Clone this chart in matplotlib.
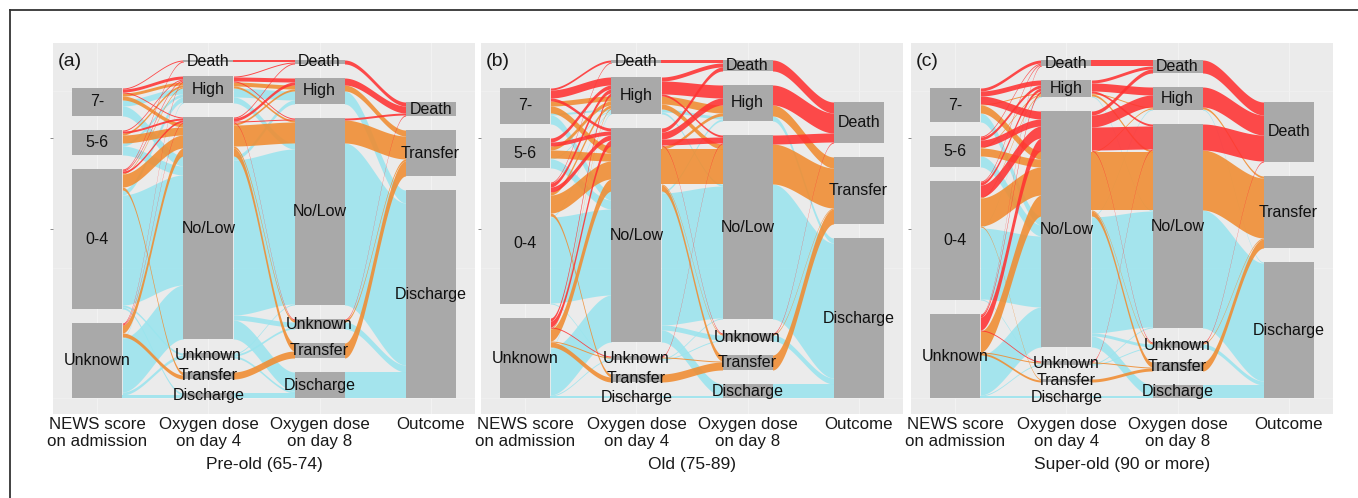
import numpy as np
import matplotlib
matplotlib.use("Agg")
import matplotlib.pyplot as plt
from matplotlib.lines import Line2D
from matplotlib.patches import Rectangle

plt.rcParams['font.family'] = ['Liberation Sans', 'DejaVu Sans']

# ---------------- data ----------------
NEWS_LEVELS = ["7-", "5-6", "0-4", "Unknown"]
DAY_LEVELS = ["Death", "High", "No/Low", "Unknown", "Transfer", "Discharge"]
OUTCOME_LEVELS = ["Death", "Transfer", "Discharge"]
AXIS_NAMES = [("NEWS score", "on admission"), ("Oxygen dose", "on day 4"),
              ("Oxygen dose", "on day 8"), ("Outcome", "")]
PANEL_TAGS = ["(a)", "(b)", "(c)"]
PANEL_TITLES = ["Pre-old (65-74)", "Old (75-89)", "Super-old (90 or more)"]

# (NEWS score, oxygen day 4, final outcome, patients)
news_day4_a = [
    ("7-", "Death", "Death", 1), ("7-", "High", "Death", 3), ("7-", "No/Low", "Death", 1),
    ("5-6", "High", "Death", 1), ("5-6", "No/Low", "Death", 2),
    ("0-4", "Death", "Death", 1), ("0-4", "High", "Death", 1), ("0-4", "No/Low", "Death", 2),
    ("Unknown", "High", "Death", 1), ("Unknown", "No/Low", "Death", 1),
    ("7-", "High", "Transfer", 3), ("7-", "No/Low", "Transfer", 4),
    ("5-6", "High", "Transfer", 2), ("5-6", "No/Low", "Transfer", 8),
    ("0-4", "High", "Transfer", 1), ("0-4", "No/Low", "Transfer", 13), ("0-4", "Transfer", "Transfer", 3),
    ("Unknown", "No/Low", "Transfer", 8), ("Unknown", "Transfer", "Transfer", 4),
    ("7-", "High", "Discharge", 6), ("7-", "No/Low", "Discharge", 10),
    ("5-6", "High", "Discharge", 3), ("5-6", "No/Low", "Discharge", 9),
    ("0-4", "High", "Discharge", 5), ("0-4", "No/Low", "Discharge", 110),
    ("0-4", "Unknown", "Discharge", 2), ("0-4", "Discharge", "Discharge", 2),
    ("Unknown", "High", "Discharge", 1), ("Unknown", "No/Low", "Discharge", 54),
    ("Unknown", "Unknown", "Discharge", 3), ("Unknown", "Discharge", "Discharge", 3),
]
# (oxygen day 4, oxygen day 8, final outcome, patients)
day4_day8_a = [
    ("Death", "Death", "Death", 2),
    ("High", "Death", "Death", 1), ("High", "High", "Death", 4), ("High", "No/Low", "Death", 1),
    ("No/Low", "Death", "Death", 1), ("No/Low", "High", "Death", 3),
    ("No/Low", "No/Low", "Death", 1), ("No/Low", "Unknown", "Death", 1),
    ("High", "High", "Transfer", 4), ("High", "No/Low", "Transfer", 2),
    ("No/Low", "High", "Transfer", 2), ("No/Low", "No/Low", "Transfer", 21),
    ("No/Low", "Unknown", "Transfer", 2), ("No/Low", "Transfer", "Transfer", 8),
    ("Transfer", "Transfer", "Transfer", 7),
    ("High", "High", "Discharge", 9), ("High", "No/Low", "Discharge", 6),
    ("No/Low", "High", "Discharge", 4), ("No/Low", "No/Low", "Discharge", 155),
    ("No/Low", "Unknown", "Discharge", 5), ("No/Low", "Discharge", "Discharge", 19),
    ("Unknown", "No/Low", "Discharge", 1), ("Unknown", "Unknown", "Discharge", 2),
    ("Unknown", "Discharge", "Discharge", 2),
    ("Discharge", "Discharge", "Discharge", 5),
]
# (oxygen day 8, final outcome, patients)
day8_out_a = [
    ("Death", "Death", 4),
    ("High", "Death", 7), ("High", "Transfer", 6), ("High", "Discharge", 13),
    ("No/Low", "Death", 2), ("No/Low", "Transfer", 23), ("No/Low", "Discharge", 162),
    ("Unknown", "Death", 1), ("Unknown", "Transfer", 2), ("Unknown", "Discharge", 7),
    ("Transfer", "Transfer", 15),
    ("Discharge", "Discharge", 26),
]

news_day4_b = [
    ("7-", "Death", "Death", 2), ("7-", "High", "Death", 8), ("7-", "No/Low", "Death", 3),
    ("5-6", "High", "Death", 4), ("5-6", "No/Low", "Death", 4),
    ("0-4", "Death", "Death", 1), ("0-4", "High", "Death", 4), ("0-4", "No/Low", "Death", 5),
    ("Unknown", "High", "Death", 3), ("Unknown", "No/Low", "Death", 6), ("Unknown", "Unknown", "Death", 1),
    ("7-", "High", "Transfer", 5), ("7-", "No/Low", "Transfer", 7),
    ("5-6", "High", "Transfer", 4), ("5-6", "No/Low", "Transfer", 8),
    ("0-4", "High", "Transfer", 3), ("0-4", "No/Low", "Transfer", 18), ("0-4", "Transfer", "Transfer", 3),
    ("Unknown", "High", "Transfer", 1), ("Unknown", "No/Low", "Transfer", 12),
    ("Unknown", "Unknown", "Transfer", 1), ("Unknown", "Transfer", "Transfer", 5),
    ("7-", "High", "Discharge", 2), ("7-", "No/Low", "Discharge", 9),
    ("5-6", "High", "Discharge", 1), ("5-6", "No/Low", "Discharge", 9),
    ("0-4", "High", "Discharge", 1), ("0-4", "No/Low", "Discharge", 86), ("0-4", "Unknown", "Discharge", 1),
    ("Unknown", "High", "Discharge", 1), ("Unknown", "No/Low", "Discharge", 47),
    ("Unknown", "Unknown", "Discharge", 1), ("Unknown", "Discharge", "Discharge", 2),
]
day4_day8_b = [
    ("Death", "Death", "Death", 3),
    ("High", "Death", "Death", 4), ("High", "High", "Death", 13), ("High", "No/Low", "Death", 2),
    ("No/Low", "Death", "Death", 4), ("No/Low", "High", "Death", 7),
    ("No/Low", "No/Low", "Death", 6), ("No/Low", "Unknown", "Death", 1),
    ("Unknown", "No/Low", "Death", 1),
    ("High", "High", "Transfer", 8), ("High", "No/Low", "Transfer", 5),
    ("No/Low", "High", "Transfer", 3), ("No/Low", "No/Low", "Transfer", 35),
    ("No/Low", "Unknown", "Transfer", 1), ("No/Low", "Transfer", "Transfer", 6),
    ("Unknown", "Transfer", "Transfer", 1), ("Transfer", "Transfer", "Transfer", 8),
    ("High", "High", "Discharge", 3), ("High", "No/Low", "Discharge", 2),
    ("No/Low", "High", "Discharge", 2), ("No/Low", "No/Low", "Discharge", 132),
    ("No/Low", "Unknown", "Discharge", 5), ("No/Low", "Discharge", "Discharge", 12),
    ("Unknown", "No/Low", "Discharge", 1), ("Unknown", "Unknown", "Discharge", 1),
    ("Discharge", "Discharge", "Discharge", 2),
]
day8_out_b = [
    ("Death", "Death", 11),
    ("High", "Death", 20), ("High", "Transfer", 11), ("High", "Discharge", 5),
    ("No/Low", "Death", 9), ("No/Low", "Transfer", 40), ("No/Low", "Discharge", 135),
    ("Unknown", "Death", 1), ("Unknown", "Transfer", 1), ("Unknown", "Discharge", 6),
    ("Transfer", "Transfer", 15),
    ("Discharge", "Discharge", 14),
]

news_day4_c = [
    ("7-", "Death", "Death", 3), ("7-", "High", "Death", 5), ("7-", "No/Low", "Death", 8),
    ("5-6", "Death", "Death", 1), ("5-6", "High", "Death", 3), ("5-6", "No/Low", "Death", 7),
    ("0-4", "Death", "Death", 1), ("0-4", "High", "Death", 3), ("0-4", "No/Low", "Death", 12),
    ("Unknown", "Death", "Death", 1), ("Unknown", "High", "Death", 2),
    ("Unknown", "No/Low", "Death", 13), ("Unknown", "Unknown", "Death", 1),
    ("7-", "High", "Transfer", 1), ("7-", "No/Low", "Transfer", 8),
    ("5-6", "High", "Transfer", 1), ("5-6", "No/Low", "Transfer", 8),
    ("0-4", "High", "Transfer", 1), ("0-4", "No/Low", "Transfer", 28), ("0-4", "Transfer", "Transfer", 1),
    ("Unknown", "No/Low", "Transfer", 21), ("Unknown", "Unknown", "Transfer", 1),
    ("Unknown", "Transfer", "Transfer", 2),
    ("7-", "No/Low", "Discharge", 9), ("5-6", "No/Low", "Discharge", 11),
    ("0-4", "High", "Discharge", 1), ("0-4", "No/Low", "Discharge", 71), ("0-4", "Unknown", "Discharge", 1),
    ("Unknown", "No/Low", "Discharge", 40), ("Unknown", "Unknown", "Discharge", 1),
    ("Unknown", "Discharge", "Discharge", 2),
]
day4_day8_c = [
    ("Death", "Death", "Death", 6),
    ("High", "Death", "Death", 3), ("High", "High", "Death", 8), ("High", "No/Low", "Death", 2),
    ("No/Low", "Death", "Death", 4), ("No/Low", "High", "Death", 12),
    ("No/Low", "No/Low", "Death", 23), ("No/Low", "Unknown", "Death", 1),
    ("Unknown", "No/Low", "Death", 1),
    ("High", "High", "Transfer", 1), ("High", "No/Low", "Transfer", 2),
    ("No/Low", "High", "Transfer", 1), ("No/Low", "No/Low", "Transfer", 58),
    ("No/Low", "Unknown", "Transfer", 1), ("No/Low", "Transfer", "Transfer", 5),
    ("Unknown", "Transfer", "Transfer", 1), ("Transfer", "Transfer", "Transfer", 3),
    ("High", "No/Low", "Discharge", 1),
    ("No/Low", "High", "Discharge", 1), ("No/Low", "No/Low", "Discharge", 116),
    ("No/Low", "Unknown", "Discharge", 3), ("No/Low", "Discharge", "Discharge", 11),
    ("Unknown", "No/Low", "Discharge", 1), ("Unknown", "Unknown", "Discharge", 1),
    ("Discharge", "Discharge", "Discharge", 2),
]
day8_out_c = [
    ("Death", "Death", 13),
    ("High", "Death", 20), ("High", "Transfer", 2), ("High", "Discharge", 1),
    ("No/Low", "Death", 26), ("No/Low", "Transfer", 60), ("No/Low", "Discharge", 118),
    ("Unknown", "Death", 1), ("Unknown", "Transfer", 1), ("Unknown", "Discharge", 4),
    ("Transfer", "Transfer", 9),
    ("Discharge", "Discharge", 13),
]

PANELS = [
    (news_day4_a, day4_day8_a, day8_out_a),
    (news_day4_b, day4_day8_b, day8_out_b),
    (news_day4_c, day4_day8_c, day8_out_c),
]

# ---------------- style ----------------
FILL = {"Death": "#FF3232", "Transfer": "#F08C30", "Discharge": "#9AE4EE"}
DRAW_ORDER = ["Discharge", "Transfer", "Death"]
OUT_RANK = {o: i for i, o in enumerate(OUTCOME_LEVELS)}
BOX_COLOR = "#A9A9A9"
PANEL_BG = "#EBEBEB"
GAP = 14.0
BW = 0.45

W, H = 1358, 498
fig = plt.figure(figsize=(W / 100, H / 100), dpi=100)


def fx(px):
    return px / W


def fy(py):
    return 1 - py / H


PANEL_LEFT = [53, 481, 911]
PANEL_W = 422
PANEL_TOP, PANEL_BOT = 43, 414
XLIM = (0.6, 4.4)
YLIM = (-16, 355)


def ribbon(ax, x0, x1, t0, b0, t1, b1, color):
    t = np.linspace(0, 1, 80)
    s = t * t * (3 - 2 * t)
    xs = x0 + (x1 - x0) * t
    top = t0 + (t1 - t0) * s
    bot = b0 + (b1 - b0) * s
    ax.fill_between(xs, bot, top, color=color, alpha=0.88, lw=0, zorder=2)


def draw_panel(ax, news_day4, day4_day8, day8_out):
    pairs = [news_day4, day4_day8,
             [(d8, o, o, n) for (d8, o, n) in day8_out]]
    levels = [NEWS_LEVELS, DAY_LEVELS, DAY_LEVELS, OUTCOME_LEVELS]
    sizes = []
    for k in range(4):
        d = {lv: 0 for lv in levels[k]}
        if k == 0:
            for (l, r, o, n) in pairs[0]:
                d[l] += n
        else:
            for (l, r, o, n) in pairs[k - 1]:
                d[r] += n
        sizes.append(d)
    pos = []
    for k in range(4):
        p = {}
        cur = 0.0
        for lv in reversed(levels[k]):
            sz = sizes[k][lv]
            if sz <= 0:
                continue
            p[lv] = (cur, cur + sz)
            cur += sz + GAP
        pos.append(p)
    ribbons = []
    for k in range(3):
        flows = pairs[k]
        lrank = {lv: i for i, lv in enumerate(levels[k])}
        rrank = {lv: i for i, lv in enumerate(levels[k + 1])}
        lpos, rpos = {}, {}
        for lv in levels[k]:
            fl = [f for f in flows if f[0] == lv]
            fl.sort(key=lambda f: (OUT_RANK[f[2]], rrank[f[1]]))
            if lv not in pos[k]:
                continue
            y = pos[k][lv][1]
            for f in fl:
                lpos[id(f)] = (y, y - f[3])
                y -= f[3]
        for lv in levels[k + 1]:
            fl = [f for f in flows if f[1] == lv]
            fl.sort(key=lambda f: (OUT_RANK[f[2]], lrank[f[0]]))
            if lv not in pos[k + 1]:
                continue
            y = pos[k + 1][lv][1]
            for f in fl:
                rpos[id(f)] = (y, y - f[3])
                y -= f[3]
        x0 = k + 1 + BW / 2
        x1 = k + 2 - BW / 2
        for f in flows:
            t0, b0 = lpos[id(f)]
            t1, b1 = rpos[id(f)]
            ribbons.append((f[2], x0, x1, t0, b0, t1, b1))
    for oc in DRAW_ORDER:
        for r in ribbons:
            if r[0] == oc:
                ribbon(ax, r[1], r[2], r[3], r[4], r[5], r[6], FILL[oc])
    for k in range(4):
        x = k + 1
        for lv, (y0, y1) in pos[k].items():
            ax.add_patch(Rectangle((x - BW / 2, y0), BW, y1 - y0,
                                   fc=BOX_COLOR, ec="none", zorder=3))
            ax.text(x, (y0 + y1) / 2, lv, ha="center", va="center",
                    fontsize=11.5, color="#111111", zorder=4)


for i in range(3):
    left = PANEL_LEFT[i]
    ax = fig.add_axes([fx(left), fy(PANEL_BOT), PANEL_W / W,
                       (PANEL_BOT - PANEL_TOP) / H])
    ax.set_facecolor(PANEL_BG)
    ax.set_xlim(*XLIM)
    ax.set_ylim(*YLIM)
    for sp in ax.spines.values():
        sp.set_visible(False)
    ax.set_xticks([])
    ax.set_yticks([169, 260])
    ax.set_yticklabels([])
    ax.tick_params(axis="y", length=2.5, width=0.6, color="#777777")
    for xg in range(1, 5):
        ax.axvline(xg, color="#F2F2F2", lw=0.8, zorder=0.5)
    for yg in [0, 130, 307]:
        ax.axhline(yg, color="#F0F0F0", lw=0.6, zorder=0.5)
    draw_panel(ax, *PANELS[i])
    for k in range(4):
        xp = left + (k + 1 - XLIM[0]) / (XLIM[1] - XLIM[0]) * PANEL_W
        l1, l2 = AXIS_NAMES[k]
        fig.text(fx(xp), fy(424), l1, ha="center", va="center",
                 fontsize=12.2, color="#1a1a1a")
        if l2:
            fig.text(fx(xp), fy(441), l2, ha="center", va="center",
                     fontsize=12.2, color="#1a1a1a")
    fig.text(fx(left + PANEL_W / 2), fy(464), PANEL_TITLES[i], ha="center",
             va="center", fontsize=12.5, color="#1a1a1a")
    fig.text(fx(left + 5), fy(62), PANEL_TAGS[i], ha="left", va="center",
             fontsize=14, color="#1a1a1a")

fig.add_artist(Line2D([fx(10), 1.0], [fy(10), fy(10)], color="#333333", lw=1.3))
fig.add_artist(Line2D([fx(10), fx(10)], [fy(10), 0.0], color="#333333", lw=1.3))

fig.savefig("out.png", dpi=100)
